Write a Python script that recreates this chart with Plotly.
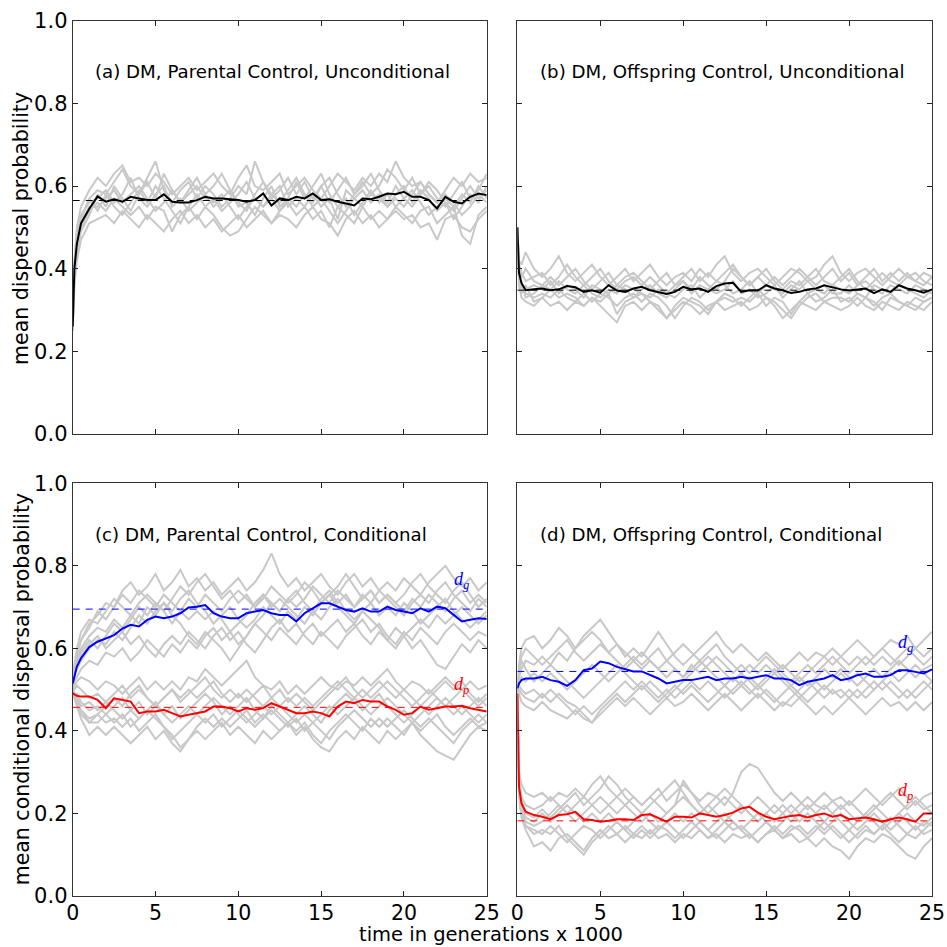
import plotly.graph_objects as go

# ---------------- data ----------------
# time in generations x 1000 at which values were read
T = [0, 0.1, 0.25, 0.5, 1.0,
     1.5, 2.0, 2.5, 3.0, 3.5, 4.0, 4.5, 5.0, 5.5, 6.0, 6.5, 7.0,
     7.5, 8.0, 8.5, 9.0, 9.5, 10.0, 10.5, 11.0, 11.5, 12.0, 12.5, 13.0,
     13.5, 14.0, 14.5, 15.0, 15.5, 16.0, 16.5, 17.0, 17.5, 18.0, 18.5, 19.0,
     19.5, 20.0, 20.5, 21.0, 21.5, 22.0, 22.5, 23.0, 23.5, 24.0, 24.5, 25.0]

# (a) parental control, unconditional: replicate runs and their mean
GRAY_A = [
    [0.26, 0.42, 0.50, 0.55, 0.59,
     0.62, 0.60, 0.63, 0.65, 0.61, 0.62, 0.60, 0.63, 0.61, 0.58, 0.60, 0.62,
     0.59, 0.61, 0.63, 0.60, 0.58, 0.62, 0.65, 0.60, 0.59, 0.61, 0.63, 0.58,
     0.60, 0.62, 0.59, 0.57, 0.60, 0.63, 0.61, 0.59, 0.62, 0.60, 0.63, 0.61,
     0.66, 0.62, 0.60, 0.61, 0.58, 0.56, 0.59, 0.62, 0.60, 0.63, 0.61, 0.62],
    [0.25, 0.36, 0.42, 0.47, 0.51,
     0.52, 0.53, 0.51, 0.54, 0.52, 0.50, 0.53, 0.51, 0.49, 0.52, 0.54, 0.51,
     0.53, 0.50, 0.52, 0.49, 0.51, 0.53, 0.50, 0.52, 0.54, 0.51, 0.53, 0.52,
     0.50, 0.53, 0.55, 0.52, 0.51, 0.48, 0.52, 0.54, 0.51, 0.53, 0.50, 0.52,
     0.54, 0.52, 0.53, 0.50, 0.51, 0.47, 0.52, 0.53, 0.50, 0.49, 0.52, 0.54],
    [0.27, 0.40, 0.47, 0.52, 0.57,
     0.59, 0.58, 0.61, 0.64, 0.60, 0.58, 0.62, 0.66, 0.59, 0.56, 0.59, 0.61,
     0.57, 0.60, 0.58, 0.55, 0.57, 0.60, 0.58, 0.66, 0.61, 0.58, 0.56, 0.59,
     0.62, 0.58, 0.56, 0.60, 0.62, 0.58, 0.55, 0.58, 0.61, 0.58, 0.60, 0.64,
     0.62, 0.59, 0.62, 0.58, 0.60, 0.57, 0.55, 0.58, 0.61, 0.57, 0.59, 0.63],
    [0.26, 0.38, 0.45, 0.50, 0.54,
     0.56, 0.54, 0.57, 0.55, 0.53, 0.55, 0.52, 0.55, 0.54, 0.49, 0.53, 0.55,
     0.52, 0.55, 0.53, 0.50, 0.48, 0.49, 0.52, 0.55, 0.53, 0.51, 0.54, 0.56,
     0.53, 0.55, 0.52, 0.54, 0.50, 0.55, 0.53, 0.51, 0.55, 0.52, 0.54, 0.52,
     0.55, 0.53, 0.51, 0.54, 0.55, 0.51, 0.53, 0.55, 0.48, 0.46, 0.53, 0.55],
    [0.25, 0.41, 0.48, 0.53, 0.56,
     0.57, 0.59, 0.56, 0.58, 0.62, 0.57, 0.55, 0.58, 0.60, 0.55, 0.57, 0.54,
     0.56, 0.58, 0.55, 0.57, 0.59, 0.55, 0.56, 0.53, 0.57, 0.60, 0.55, 0.57,
     0.61, 0.57, 0.60, 0.63, 0.58, 0.55, 0.57, 0.53, 0.56, 0.59, 0.56, 0.58,
     0.55, 0.57, 0.59, 0.56, 0.53, 0.55, 0.57, 0.55, 0.58, 0.56, 0.60, 0.57],
    [0.28, 0.39, 0.46, 0.51, 0.55,
     0.55, 0.57, 0.59, 0.56, 0.58, 0.60, 0.57, 0.54, 0.56, 0.59, 0.56, 0.58,
     0.60, 0.57, 0.56, 0.58, 0.55, 0.52, 0.55, 0.57, 0.55, 0.58, 0.60, 0.55,
     0.57, 0.55, 0.58, 0.55, 0.57, 0.52, 0.59, 0.57, 0.55, 0.58, 0.57, 0.55,
     0.58, 0.60, 0.56, 0.59, 0.57, 0.54, 0.56, 0.54, 0.57, 0.60, 0.57, 0.59],
    [0.26, 0.37, 0.44, 0.49, 0.53,
     0.58, 0.55, 0.60, 0.57, 0.54, 0.58, 0.61, 0.57, 0.63, 0.59, 0.56, 0.59,
     0.62, 0.58, 0.60, 0.63, 0.59, 0.56, 0.54, 0.58, 0.61, 0.57, 0.59, 0.62,
     0.58, 0.61, 0.57, 0.60, 0.56, 0.59, 0.62, 0.58, 0.60, 0.63, 0.59, 0.56,
     0.60, 0.57, 0.55, 0.58, 0.61, 0.59, 0.56, 0.52, 0.55, 0.58, 0.56, 0.60],
    [0.27, 0.40, 0.47, 0.52, 0.57,
     0.54, 0.58, 0.55, 0.53, 0.56, 0.59, 0.56, 0.60, 0.57, 0.54, 0.51, 0.55,
     0.58, 0.55, 0.57, 0.54, 0.56, 0.58, 0.61, 0.57, 0.55, 0.57, 0.54, 0.57,
     0.55, 0.58, 0.55, 0.57, 0.54, 0.51, 0.54, 0.57, 0.59, 0.56, 0.58, 0.55,
     0.57, 0.55, 0.58, 0.61, 0.58, 0.56, 0.58, 0.56, 0.53, 0.55, 0.58, 0.56],
]
MEAN_A = [0.26, 0.40, 0.46, 0.51, 0.545,
          0.575, 0.562, 0.568, 0.562, 0.574, 0.570, 0.566, 0.566, 0.580, 0.562, 0.560, 0.560,
          0.566, 0.574, 0.570, 0.570, 0.568, 0.566, 0.562, 0.566, 0.582, 0.553, 0.570, 0.566,
          0.574, 0.570, 0.582, 0.566, 0.568, 0.562, 0.558, 0.553, 0.570, 0.568, 0.574, 0.582,
          0.580, 0.586, 0.574, 0.574, 0.566, 0.546, 0.574, 0.562, 0.558, 0.574, 0.582, 0.578]

# (b) offspring control, unconditional
GRAY_B = [
    [0.50, 0.42, 0.41, 0.44, 0.40,
     0.38, 0.40, 0.43, 0.39, 0.37, 0.39, 0.41, 0.38, 0.36, 0.38, 0.40, 0.37,
     0.39, 0.41, 0.38, 0.36, 0.38, 0.39, 0.37, 0.40, 0.38, 0.41, 0.43, 0.39,
     0.37, 0.39, 0.40, 0.38, 0.36, 0.38, 0.40, 0.39, 0.37, 0.38, 0.41, 0.43,
     0.39, 0.37, 0.39, 0.40, 0.38, 0.36, 0.38, 0.40, 0.38, 0.37, 0.39, 0.38],
    [0.50, 0.36, 0.33, 0.32, 0.31,
     0.33, 0.31, 0.32, 0.30, 0.32, 0.31, 0.33, 0.31, 0.29, 0.27, 0.31, 0.32,
     0.30, 0.32, 0.31, 0.28, 0.30, 0.32, 0.31, 0.29, 0.31, 0.32, 0.30, 0.31,
     0.32, 0.30, 0.31, 0.33, 0.31, 0.28, 0.30, 0.32, 0.31, 0.30, 0.32, 0.31,
     0.30, 0.31, 0.33, 0.31, 0.30, 0.32, 0.31, 0.30, 0.32, 0.31, 0.30, 0.32],
    [0.50, 0.40, 0.38, 0.40, 0.37,
     0.36, 0.38, 0.36, 0.38, 0.40, 0.37, 0.35, 0.37, 0.39, 0.36, 0.38, 0.39,
     0.37, 0.35, 0.37, 0.39, 0.36, 0.37, 0.35, 0.38, 0.36, 0.35, 0.37, 0.40,
     0.38, 0.36, 0.38, 0.40, 0.37, 0.35, 0.37, 0.36, 0.38, 0.40, 0.37, 0.36,
     0.38, 0.40, 0.37, 0.35, 0.37, 0.39, 0.37, 0.36, 0.38, 0.39, 0.37, 0.36],
    [0.50, 0.37, 0.35, 0.34, 0.33,
     0.34, 0.33, 0.35, 0.33, 0.32, 0.34, 0.32, 0.34, 0.33, 0.31, 0.33, 0.34,
     0.32, 0.34, 0.33, 0.31, 0.28, 0.31, 0.33, 0.32, 0.30, 0.32, 0.34, 0.33,
     0.31, 0.33, 0.35, 0.33, 0.32, 0.30, 0.28, 0.31, 0.33, 0.34, 0.32, 0.33,
     0.33, 0.32, 0.34, 0.33, 0.31, 0.33, 0.34, 0.32, 0.31, 0.33, 0.32, 0.33],
    [0.50, 0.39, 0.36, 0.35, 0.36,
     0.35, 0.37, 0.34, 0.36, 0.35, 0.33, 0.36, 0.35, 0.34, 0.36, 0.35, 0.33,
     0.35, 0.36, 0.34, 0.33, 0.35, 0.37, 0.34, 0.36, 0.35, 0.37, 0.36, 0.34,
     0.35, 0.37, 0.34, 0.36, 0.35, 0.34, 0.36, 0.35, 0.37, 0.35, 0.34, 0.36,
     0.35, 0.34, 0.36, 0.37, 0.35, 0.34, 0.36, 0.35, 0.34, 0.36, 0.35, 0.34],
    [0.50, 0.38, 0.37, 0.33, 0.34,
     0.36, 0.35, 0.37, 0.35, 0.34, 0.36, 0.34, 0.33, 0.35, 0.34, 0.36, 0.35,
     0.34, 0.33, 0.35, 0.34, 0.33, 0.35, 0.36, 0.33, 0.35, 0.34, 0.35, 0.37,
     0.34, 0.35, 0.33, 0.34, 0.36, 0.33, 0.35, 0.37, 0.34, 0.35, 0.36, 0.34,
     0.34, 0.36, 0.34, 0.33, 0.36, 0.35, 0.34, 0.36, 0.35, 0.34, 0.33, 0.35],
    [0.50, 0.41, 0.39, 0.37, 0.38,
     0.39, 0.36, 0.38, 0.41, 0.38, 0.36, 0.38, 0.40, 0.37, 0.35, 0.37, 0.38,
     0.36, 0.38, 0.36, 0.34, 0.36, 0.38, 0.40, 0.37, 0.39, 0.37, 0.39, 0.41,
     0.38, 0.36, 0.38, 0.36, 0.38, 0.36, 0.38, 0.40, 0.38, 0.36, 0.38, 0.40,
     0.37, 0.39, 0.36, 0.38, 0.40, 0.37, 0.39, 0.37, 0.39, 0.37, 0.36, 0.38],
    [0.50, 0.37, 0.34, 0.36, 0.32,
     0.33, 0.35, 0.33, 0.34, 0.33, 0.31, 0.33, 0.32, 0.34, 0.29, 0.32, 0.33,
     0.34, 0.32, 0.30, 0.28, 0.31, 0.33, 0.32, 0.31, 0.29, 0.32, 0.33, 0.32,
     0.33, 0.32, 0.34, 0.31, 0.33, 0.32, 0.29, 0.32, 0.34, 0.32, 0.33, 0.35,
     0.32, 0.33, 0.31, 0.33, 0.32, 0.30, 0.33, 0.32, 0.31, 0.30, 0.32, 0.33],
]
MEAN_B = [0.50, 0.39, 0.365, 0.348, 0.350,
          0.352, 0.348, 0.350, 0.358, 0.355, 0.344, 0.348, 0.342, 0.360, 0.347, 0.344, 0.352,
          0.356, 0.348, 0.344, 0.339, 0.344, 0.356, 0.350, 0.352, 0.344, 0.358, 0.364, 0.366,
          0.344, 0.348, 0.347, 0.360, 0.352, 0.348, 0.341, 0.344, 0.350, 0.352, 0.360, 0.355,
          0.350, 0.347, 0.350, 0.352, 0.341, 0.350, 0.344, 0.360, 0.352, 0.348, 0.342, 0.350]

# (c) parental control, conditional: d_g (upper group) and d_p (lower group)
GRAY_C_G = [
    [0.50, 0.55, 0.58, 0.62, 0.66,
     0.68, 0.71, 0.70, 0.74, 0.76, 0.73, 0.75, 0.78, 0.74, 0.76, 0.79, 0.75,
     0.77, 0.74, 0.76, 0.73, 0.75, 0.77, 0.74, 0.76, 0.79, 0.83, 0.78, 0.75,
     0.77, 0.74, 0.76, 0.78, 0.75, 0.73, 0.76, 0.78, 0.75, 0.77, 0.74, 0.76,
     0.74, 0.77, 0.75, 0.73, 0.76, 0.78, 0.80, 0.77, 0.75, 0.77, 0.74, 0.76],
    [0.50, 0.53, 0.55, 0.57, 0.60,
     0.62, 0.61, 0.64, 0.62, 0.65, 0.68, 0.66, 0.69, 0.71, 0.68, 0.66, 0.63,
     0.61, 0.64, 0.62, 0.60, 0.57, 0.60, 0.63, 0.66, 0.68, 0.71, 0.69, 0.72,
     0.74, 0.71, 0.69, 0.72, 0.74, 0.71, 0.73, 0.70, 0.72, 0.74, 0.71, 0.73,
     0.71, 0.69, 0.72, 0.70, 0.73, 0.71, 0.69, 0.72, 0.74, 0.71, 0.73, 0.71],
    [0.50, 0.52, 0.53, 0.55, 0.57,
     0.56, 0.59, 0.58, 0.60, 0.57, 0.59, 0.62, 0.60, 0.58, 0.61, 0.59, 0.62,
     0.60, 0.63, 0.65, 0.62, 0.64, 0.61, 0.63, 0.66, 0.64, 0.62, 0.65, 0.63,
     0.61, 0.64, 0.66, 0.63, 0.65, 0.67, 0.64, 0.66, 0.63, 0.61, 0.64, 0.62,
     0.65, 0.63, 0.60, 0.62, 0.59, 0.56, 0.55, 0.58, 0.61, 0.59, 0.62, 0.60],
    [0.50, 0.54, 0.57, 0.60, 0.63,
     0.65, 0.64, 0.67, 0.65, 0.68, 0.66, 0.70, 0.68, 0.71, 0.69, 0.72, 0.74,
     0.71, 0.69, 0.66, 0.68, 0.70, 0.67, 0.65, 0.67, 0.70, 0.68, 0.66, 0.69,
     0.67, 0.70, 0.68, 0.71, 0.73, 0.70, 0.68, 0.66, 0.69, 0.71, 0.68, 0.70,
     0.68, 0.71, 0.69, 0.66, 0.68, 0.70, 0.72, 0.69, 0.67, 0.65, 0.67, 0.69],
    [0.50, 0.56, 0.60, 0.64, 0.67,
     0.66, 0.69, 0.72, 0.70, 0.68, 0.71, 0.73, 0.71, 0.69, 0.72, 0.75, 0.73,
     0.76, 0.78, 0.75, 0.72, 0.74, 0.71, 0.73, 0.70, 0.72, 0.75, 0.73, 0.71,
     0.73, 0.76, 0.74, 0.71, 0.73, 0.75, 0.78, 0.75, 0.72, 0.74, 0.71, 0.73,
     0.71, 0.73, 0.76, 0.78, 0.75, 0.73, 0.71, 0.74, 0.76, 0.73, 0.70, 0.72],
    [0.50, 0.53, 0.56, 0.58, 0.61,
     0.63, 0.60, 0.62, 0.64, 0.61, 0.63, 0.60, 0.58, 0.61, 0.63, 0.61, 0.64,
     0.62, 0.60, 0.63, 0.65, 0.62, 0.64, 0.61, 0.59, 0.62, 0.65, 0.67, 0.64,
     0.66, 0.63, 0.61, 0.64, 0.62, 0.60, 0.63, 0.65, 0.67, 0.64, 0.66, 0.63,
     0.61, 0.64, 0.62, 0.65, 0.63, 0.61, 0.64, 0.66, 0.64, 0.62, 0.64, 0.63],
    [0.50, 0.55, 0.59, 0.62, 0.65,
     0.69, 0.67, 0.70, 0.73, 0.71, 0.74, 0.72, 0.70, 0.73, 0.71, 0.69, 0.72,
     0.70, 0.73, 0.71, 0.69, 0.72, 0.74, 0.72, 0.70, 0.73, 0.71, 0.69, 0.72,
     0.70, 0.72, 0.75, 0.73, 0.71, 0.74, 0.72, 0.70, 0.73, 0.71, 0.74, 0.72,
     0.70, 0.68, 0.71, 0.73, 0.71, 0.74, 0.76, 0.73, 0.71, 0.69, 0.72, 0.70],
    [0.50, 0.54, 0.56, 0.59, 0.62,
     0.60, 0.63, 0.66, 0.64, 0.67, 0.70, 0.68, 0.71, 0.69, 0.66, 0.69, 0.67,
     0.69, 0.67, 0.69, 0.67, 0.64, 0.66, 0.68, 0.71, 0.73, 0.70, 0.72, 0.70,
     0.68, 0.66, 0.69, 0.67, 0.70, 0.72, 0.69, 0.67, 0.69, 0.67, 0.65, 0.62,
     0.60, 0.63, 0.65, 0.67, 0.65, 0.68, 0.66, 0.68, 0.70, 0.68, 0.66, 0.68],
]
GRAY_C_P = [
    [0.50, 0.51, 0.52, 0.53, 0.52,
     0.50, 0.52, 0.51, 0.49, 0.51, 0.53, 0.50, 0.52, 0.50, 0.52, 0.50, 0.53,
     0.52, 0.55, 0.53, 0.51, 0.53, 0.55, 0.57, 0.53, 0.51, 0.50, 0.52, 0.49,
     0.51, 0.49, 0.51, 0.53, 0.51, 0.50, 0.52, 0.51, 0.53, 0.51, 0.53, 0.55,
     0.52, 0.50, 0.52, 0.51, 0.49, 0.51, 0.53, 0.51, 0.50, 0.52, 0.50, 0.51],
    [0.50, 0.48, 0.46, 0.43, 0.39,
     0.41, 0.39, 0.41, 0.39, 0.37, 0.39, 0.41, 0.38, 0.40, 0.37, 0.35, 0.38,
     0.40, 0.38, 0.40, 0.42, 0.39, 0.41, 0.39, 0.37, 0.40, 0.38, 0.40, 0.42,
     0.39, 0.41, 0.38, 0.36, 0.35, 0.38, 0.40, 0.38, 0.41, 0.39, 0.37, 0.40,
     0.38, 0.40, 0.42, 0.39, 0.37, 0.35, 0.34, 0.33, 0.36, 0.39, 0.41, 0.40],
    [0.50, 0.49, 0.49, 0.47, 0.45,
     0.46, 0.44, 0.46, 0.48, 0.45, 0.43, 0.45, 0.47, 0.44, 0.42, 0.44, 0.46,
     0.44, 0.46, 0.48, 0.46, 0.44, 0.46, 0.48, 0.45, 0.43, 0.46, 0.44, 0.42,
     0.44, 0.46, 0.44, 0.42, 0.45, 0.47, 0.49, 0.47, 0.45, 0.47, 0.49, 0.46,
     0.44, 0.42, 0.44, 0.46, 0.44, 0.46, 0.48, 0.46, 0.44, 0.46, 0.48, 0.46],
    [0.50, 0.50, 0.51, 0.50, 0.48,
     0.49, 0.47, 0.49, 0.51, 0.48, 0.50, 0.48, 0.46, 0.48, 0.50, 0.48, 0.50,
     0.48, 0.50, 0.52, 0.49, 0.47, 0.49, 0.47, 0.49, 0.51, 0.48, 0.46, 0.48,
     0.46, 0.48, 0.46, 0.48, 0.50, 0.52, 0.50, 0.48, 0.50, 0.48, 0.50, 0.52,
     0.50, 0.48, 0.46, 0.48, 0.50, 0.48, 0.46, 0.48, 0.50, 0.48, 0.46, 0.48],
    [0.50, 0.48, 0.47, 0.45, 0.43,
     0.44, 0.42, 0.43, 0.41, 0.43, 0.40, 0.42, 0.44, 0.41, 0.39, 0.36, 0.38,
     0.41, 0.43, 0.41, 0.43, 0.41, 0.43, 0.45, 0.42, 0.44, 0.42, 0.40, 0.42,
     0.40, 0.42, 0.39, 0.37, 0.40, 0.42, 0.44, 0.42, 0.40, 0.43, 0.41, 0.43,
     0.41, 0.39, 0.42, 0.40, 0.42, 0.44, 0.41, 0.39, 0.41, 0.43, 0.41, 0.42],
    [0.50, 0.49, 0.48, 0.46, 0.47,
     0.45, 0.47, 0.45, 0.43, 0.45, 0.47, 0.44, 0.46, 0.44, 0.46, 0.43, 0.45,
     0.47, 0.49, 0.47, 0.44, 0.46, 0.44, 0.42, 0.44, 0.46, 0.44, 0.46, 0.44,
     0.42, 0.44, 0.42, 0.44, 0.46, 0.44, 0.46, 0.48, 0.46, 0.44, 0.46, 0.48,
     0.46, 0.44, 0.42, 0.44, 0.46, 0.48, 0.46, 0.44, 0.46, 0.44, 0.42, 0.44],
    [0.50, 0.49, 0.47, 0.45, 0.42,
     0.44, 0.46, 0.48, 0.46, 0.49, 0.51, 0.48, 0.46, 0.48, 0.50, 0.47, 0.49,
     0.51, 0.53, 0.50, 0.48, 0.50, 0.48, 0.50, 0.48, 0.46, 0.48, 0.50, 0.47,
     0.49, 0.47, 0.45, 0.47, 0.49, 0.51, 0.53, 0.50, 0.48, 0.50, 0.52, 0.50,
     0.48, 0.50, 0.48, 0.46, 0.48, 0.50, 0.52, 0.50, 0.52, 0.49, 0.47, 0.49],
    [0.50, 0.48, 0.47, 0.44, 0.42,
     0.42, 0.44, 0.42, 0.44, 0.41, 0.43, 0.45, 0.43, 0.41, 0.38, 0.40, 0.42,
     0.44, 0.42, 0.44, 0.41, 0.43, 0.45, 0.43, 0.41, 0.43, 0.45, 0.43, 0.41,
     0.43, 0.40, 0.42, 0.40, 0.38, 0.41, 0.43, 0.45, 0.43, 0.41, 0.43, 0.41,
     0.43, 0.45, 0.43, 0.41, 0.43, 0.41, 0.39, 0.37, 0.40, 0.42, 0.44, 0.42],
]
MEAN_C_G = [0.515, 0.535, 0.556, 0.576, 0.603,
            0.616, 0.624, 0.632, 0.648, 0.657, 0.653, 0.669, 0.677, 0.673, 0.677, 0.685, 0.699,
            0.701, 0.705, 0.685, 0.677, 0.673, 0.673, 0.685, 0.689, 0.693, 0.685, 0.681, 0.681,
            0.665, 0.685, 0.697, 0.709, 0.709, 0.701, 0.693, 0.689, 0.697, 0.689, 0.689, 0.701,
            0.693, 0.689, 0.685, 0.697, 0.689, 0.701, 0.697, 0.681, 0.665, 0.669, 0.673, 0.671]
MEAN_C_P = [0.491, 0.488, 0.485, 0.483, 0.483,
            0.475, 0.455, 0.479, 0.475, 0.471, 0.443, 0.447, 0.447, 0.451, 0.443, 0.435, 0.439,
            0.443, 0.447, 0.459, 0.459, 0.455, 0.447, 0.455, 0.451, 0.455, 0.467, 0.459, 0.451,
            0.443, 0.443, 0.447, 0.443, 0.435, 0.459, 0.471, 0.467, 0.475, 0.471, 0.471, 0.459,
            0.451, 0.439, 0.443, 0.459, 0.451, 0.455, 0.459, 0.459, 0.461, 0.455, 0.451, 0.447]

# (d) offspring control, conditional
GRAY_D_G = [
    [0.50, 0.56, 0.60, 0.62, 0.63,
     0.60, 0.62, 0.65, 0.63, 0.60, 0.62, 0.64, 0.62, 0.59, 0.61, 0.58, 0.60,
     0.58, 0.61, 0.64, 0.61, 0.58, 0.56, 0.58, 0.60, 0.62, 0.64, 0.61, 0.59,
     0.61, 0.59, 0.57, 0.59, 0.57, 0.55, 0.57, 0.59, 0.57, 0.59, 0.58, 0.60,
     0.58, 0.60, 0.62, 0.60, 0.58, 0.60, 0.62, 0.61, 0.63, 0.60, 0.62, 0.64],
    [0.50, 0.49, 0.47, 0.46, 0.45,
     0.47, 0.45, 0.44, 0.43, 0.45, 0.43, 0.42, 0.44, 0.46, 0.48, 0.46, 0.48,
     0.46, 0.44, 0.46, 0.48, 0.46, 0.47, 0.49, 0.47, 0.45, 0.47, 0.49, 0.47,
     0.45, 0.47, 0.49, 0.47, 0.45, 0.47, 0.46, 0.48, 0.46, 0.44, 0.46, 0.44,
     0.46, 0.48, 0.46, 0.44, 0.46, 0.48, 0.46, 0.47, 0.45, 0.47, 0.45, 0.47],
    [0.50, 0.53, 0.55, 0.57, 0.56,
     0.58, 0.56, 0.59, 0.57, 0.60, 0.63, 0.65, 0.67, 0.64, 0.61, 0.59, 0.57,
     0.55, 0.57, 0.55, 0.53, 0.55, 0.53, 0.56, 0.54, 0.56, 0.58, 0.56, 0.54,
     0.56, 0.54, 0.56, 0.58, 0.56, 0.54, 0.52, 0.54, 0.56, 0.54, 0.56, 0.58,
     0.56, 0.54, 0.56, 0.58, 0.56, 0.58, 0.56, 0.58, 0.60, 0.58, 0.56, 0.58],
    [0.50, 0.52, 0.53, 0.52, 0.54,
     0.52, 0.54, 0.52, 0.50, 0.52, 0.54, 0.56, 0.54, 0.52, 0.54, 0.56, 0.58,
     0.56, 0.58, 0.60, 0.57, 0.55, 0.53, 0.55, 0.57, 0.55, 0.53, 0.51, 0.53,
     0.51, 0.53, 0.51, 0.53, 0.55, 0.53, 0.51, 0.53, 0.51, 0.53, 0.55, 0.53,
     0.55, 0.53, 0.51, 0.53, 0.55, 0.53, 0.55, 0.57, 0.55, 0.53, 0.55, 0.56],
    [0.50, 0.51, 0.50, 0.49, 0.50,
     0.48, 0.50, 0.48, 0.46, 0.44, 0.46, 0.44, 0.46, 0.48, 0.50, 0.52, 0.50,
     0.52, 0.50, 0.48, 0.50, 0.48, 0.50, 0.52, 0.50, 0.52, 0.50, 0.48, 0.50,
     0.52, 0.50, 0.48, 0.50, 0.48, 0.46, 0.48, 0.50, 0.52, 0.50, 0.48, 0.50,
     0.48, 0.50, 0.48, 0.50, 0.52, 0.50, 0.52, 0.50, 0.48, 0.50, 0.52, 0.50],
    [0.50, 0.54, 0.57, 0.55, 0.52,
     0.54, 0.56, 0.54, 0.52, 0.50, 0.48, 0.50, 0.52, 0.54, 0.56, 0.54, 0.52,
     0.50, 0.52, 0.50, 0.48, 0.50, 0.52, 0.54, 0.56, 0.58, 0.56, 0.54, 0.52,
     0.54, 0.52, 0.50, 0.52, 0.54, 0.52, 0.50, 0.48, 0.50, 0.52, 0.50, 0.52,
     0.54, 0.52, 0.54, 0.52, 0.50, 0.52, 0.54, 0.52, 0.54, 0.56, 0.54, 0.52],
    [0.50, 0.55, 0.58, 0.60, 0.58,
     0.56, 0.58, 0.60, 0.62, 0.59, 0.57, 0.59, 0.61, 0.59, 0.57, 0.55, 0.57,
     0.59, 0.57, 0.55, 0.57, 0.59, 0.61, 0.59, 0.57, 0.59, 0.61, 0.58, 0.56,
     0.54, 0.56, 0.54, 0.56, 0.54, 0.56, 0.54, 0.52, 0.54, 0.56, 0.58, 0.56,
     0.58, 0.56, 0.58, 0.56, 0.58, 0.60, 0.58, 0.56, 0.58, 0.60, 0.58, 0.60],
    [0.50, 0.50, 0.49, 0.48, 0.47,
     0.49, 0.47, 0.49, 0.47, 0.46, 0.44, 0.42, 0.45, 0.47, 0.49, 0.47, 0.49,
     0.51, 0.49, 0.47, 0.49, 0.51, 0.49, 0.51, 0.49, 0.47, 0.49, 0.51, 0.49,
     0.51, 0.49, 0.51, 0.49, 0.47, 0.49, 0.51, 0.49, 0.47, 0.49, 0.51, 0.49,
     0.50, 0.48, 0.50, 0.48, 0.50, 0.52, 0.50, 0.48, 0.50, 0.48, 0.50, 0.52],
]
GRAY_D_P = [
    [0.50, 0.30, 0.27, 0.25, 0.24,
     0.25, 0.23, 0.25, 0.24, 0.26, 0.24, 0.27, 0.29, 0.26, 0.24, 0.22, 0.24,
     0.22, 0.24, 0.26, 0.23, 0.25, 0.27, 0.25, 0.23, 0.25, 0.24, 0.22, 0.25,
     0.30, 0.32, 0.31, 0.28, 0.25, 0.23, 0.25, 0.23, 0.21, 0.23, 0.25, 0.23,
     0.24, 0.22, 0.24, 0.26, 0.24, 0.22, 0.24, 0.26, 0.24, 0.22, 0.24, 0.25],
    [0.50, 0.24, 0.19, 0.16, 0.12,
     0.13, 0.11, 0.14, 0.15, 0.13, 0.11, 0.14, 0.16, 0.14, 0.15, 0.13, 0.15,
     0.14, 0.16, 0.14, 0.15, 0.13, 0.15, 0.14, 0.16, 0.14, 0.15, 0.13, 0.15,
     0.14, 0.15, 0.13, 0.15, 0.16, 0.14, 0.15, 0.13, 0.14, 0.12, 0.14, 0.12,
     0.11, 0.09, 0.12, 0.14, 0.13, 0.15, 0.14, 0.12, 0.10, 0.09, 0.12, 0.14],
    [0.50, 0.28, 0.24, 0.22, 0.21,
     0.22, 0.24, 0.22, 0.20, 0.22, 0.24, 0.22, 0.20, 0.22, 0.24, 0.26, 0.24,
     0.22, 0.24, 0.22, 0.20, 0.22, 0.28, 0.25, 0.22, 0.20, 0.22, 0.24, 0.22,
     0.20, 0.22, 0.24, 0.22, 0.20, 0.22, 0.20, 0.22, 0.24, 0.22, 0.21, 0.23,
     0.21, 0.23, 0.21, 0.19, 0.21, 0.23, 0.25, 0.23, 0.21, 0.23, 0.21, 0.22],
    [0.50, 0.27, 0.22, 0.19, 0.18,
     0.20, 0.18, 0.20, 0.22, 0.20, 0.18, 0.20, 0.18, 0.20, 0.18, 0.16, 0.18,
     0.20, 0.18, 0.16, 0.18, 0.20, 0.18, 0.20, 0.18, 0.16, 0.18, 0.20, 0.18,
     0.16, 0.18, 0.20, 0.18, 0.16, 0.18, 0.20, 0.18, 0.20, 0.18, 0.16, 0.18,
     0.20, 0.18, 0.16, 0.18, 0.20, 0.18, 0.16, 0.18, 0.20, 0.18, 0.17, 0.19],
    [0.50, 0.25, 0.20, 0.17, 0.15,
     0.16, 0.15, 0.17, 0.14, 0.12, 0.10, 0.13, 0.15, 0.17, 0.15, 0.17, 0.15,
     0.17, 0.15, 0.17, 0.16, 0.14, 0.16, 0.18, 0.16, 0.14, 0.16, 0.18, 0.16,
     0.17, 0.15, 0.13, 0.15, 0.17, 0.15, 0.17, 0.16, 0.14, 0.16, 0.18, 0.16,
     0.14, 0.16, 0.14, 0.16, 0.15, 0.17, 0.15, 0.13, 0.15, 0.17, 0.15, 0.16],
    [0.50, 0.29, 0.23, 0.20, 0.19,
     0.21, 0.19, 0.21, 0.23, 0.25, 0.22, 0.24, 0.26, 0.29, 0.27, 0.24, 0.22,
     0.20, 0.22, 0.24, 0.26, 0.28, 0.25, 0.22, 0.20, 0.22, 0.20, 0.18, 0.20,
     0.22, 0.20, 0.18, 0.20, 0.22, 0.20, 0.18, 0.20, 0.22, 0.20, 0.18, 0.20,
     0.22, 0.20, 0.18, 0.20, 0.22, 0.20, 0.18, 0.20, 0.22, 0.24, 0.22, 0.20],
    [0.50, 0.27, 0.21, 0.18, 0.17,
     0.18, 0.20, 0.22, 0.20, 0.18, 0.20, 0.22, 0.24, 0.22, 0.20, 0.22, 0.20,
     0.18, 0.20, 0.18, 0.20, 0.22, 0.24, 0.22, 0.20, 0.22, 0.24, 0.26, 0.24,
     0.22, 0.20, 0.18, 0.20, 0.18, 0.20, 0.22, 0.20, 0.18, 0.20, 0.22, 0.20,
     0.18, 0.16, 0.18, 0.20, 0.18, 0.16, 0.18, 0.20, 0.18, 0.16, 0.18, 0.17],
    [0.50, 0.26, 0.20, 0.17, 0.16,
     0.15, 0.17, 0.15, 0.13, 0.15, 0.17, 0.16, 0.14, 0.16, 0.18, 0.16, 0.14,
     0.16, 0.14, 0.16, 0.18, 0.16, 0.14, 0.16, 0.18, 0.16, 0.14, 0.16, 0.18,
     0.16, 0.14, 0.16, 0.18, 0.16, 0.14, 0.16, 0.17, 0.15, 0.17, 0.15, 0.17,
     0.15, 0.13, 0.15, 0.17, 0.15, 0.17, 0.19, 0.17, 0.15, 0.14, 0.16, 0.18],
]
MEAN_D_G = [0.503, 0.515, 0.523, 0.527, 0.527,
            0.531, 0.523, 0.519, 0.509, 0.523, 0.547, 0.551, 0.568, 0.564, 0.555, 0.549, 0.544,
            0.544, 0.535, 0.527, 0.515, 0.519, 0.523, 0.523, 0.527, 0.531, 0.523, 0.527, 0.527,
            0.531, 0.527, 0.531, 0.535, 0.527, 0.527, 0.523, 0.511, 0.519, 0.523, 0.527, 0.535,
            0.523, 0.527, 0.535, 0.539, 0.531, 0.531, 0.535, 0.547, 0.547, 0.543, 0.539, 0.549]
MEAN_D_P = [0.49, 0.265, 0.224, 0.204, 0.196,
            0.192, 0.186, 0.196, 0.198, 0.204, 0.186, 0.184, 0.180, 0.182, 0.186, 0.186, 0.184,
            0.196, 0.198, 0.188, 0.180, 0.192, 0.192, 0.190, 0.200, 0.196, 0.192, 0.196, 0.202,
            0.212, 0.216, 0.202, 0.192, 0.186, 0.190, 0.194, 0.196, 0.190, 0.196, 0.200, 0.192,
            0.196, 0.186, 0.188, 0.190, 0.186, 0.180, 0.186, 0.190, 0.186, 0.180, 0.200, 0.200]

# predicted equilibrium values (dashed lines)
EQ_A = 0.565
EQ_B = 0.348
EQ_C_G, EQ_C_P = 0.695, 0.457
EQ_D_G, EQ_D_P = 0.544, 0.182
X_SPAN = [0, 25]

PANEL_TITLES = ["(a) DM, Parental Control, Unconditional",
                "(b) DM, Offspring Control, Unconditional",
                "(c) DM, Parental Control, Conditional",
                "(d) DM, Offspring Control, Conditional"]
Y_TITLES = ["mean dispersal probability", "mean conditional dispersal probability"]
X_TITLE = "time in generations x 1000"
Y_TICKS = [0.0, 0.2, 0.4, 0.6, 0.8, 1.0]
X_TICKS = [0, 5, 10, 15, 20, 25]

# ---------------- figure ----------------
GRAY = "#c8c8c8"
BLUE = "#0000ff"
RED = "#ff0000"
FONT = "DejaVu Sans"

fig = go.Figure()

def add_gray(lines, xa, ya):
    for ys in lines:
        fig.add_trace(go.Scatter(x=T, y=ys, mode="lines", xaxis=xa, yaxis=ya,
                                 line=dict(color=GRAY, width=2.0), hoverinfo="skip",
                                 showlegend=False))

def add_mean(ys, color, xa, ya):
    fig.add_trace(go.Scatter(x=T, y=ys, mode="lines", xaxis=xa, yaxis=ya,
                             line=dict(color=color, width=2), showlegend=False))

def add_eq(v, color, xa, ya):
    fig.add_trace(go.Scatter(x=X_SPAN, y=[v, v], mode="lines", xaxis=xa, yaxis=ya,
                             line=dict(color=color, width=1, dash="7px,6px"),
                             showlegend=False))

add_gray(GRAY_A, "x", "y")
add_mean(MEAN_A, "black", "x", "y")
add_eq(EQ_A, "black", "x", "y")

add_gray(GRAY_B, "x2", "y2")
add_mean(MEAN_B, "black", "x2", "y2")
add_eq(EQ_B, "black", "x2", "y2")

add_gray(GRAY_C_G, "x3", "y3")
add_gray(GRAY_C_P, "x3", "y3")
add_mean(MEAN_C_G, BLUE, "x3", "y3")
add_mean(MEAN_C_P, RED, "x3", "y3")
add_eq(EQ_C_G, BLUE, "x3", "y3")
add_eq(EQ_C_P, RED, "x3", "y3")

add_gray(GRAY_D_G, "x4", "y4")
add_gray(GRAY_D_P, "x4", "y4")
add_mean(MEAN_D_G, BLUE, "x4", "y4")
add_mean(MEAN_D_P, RED, "x4", "y4")
add_eq(EQ_D_G, BLUE, "x4", "y4")
add_eq(EQ_D_P, RED, "x4", "y4")

XL = [0.0768, 0.5140]
XR = [0.5463, 0.9842]
YT = [0.5417, 0.9781]
YB = [0.0539, 0.4897]

def xaxis(domain, anchor, labels):
    return dict(domain=domain, anchor=anchor, range=[0, 25], tickvals=X_TICKS,
                ticktext=[str(v) for v in X_TICKS], showticklabels=labels,
                ticks="inside", ticklen=5, tickwidth=1, tickcolor="#222",
                showline=True, linecolor="#333", linewidth=1, mirror="ticks",
                showgrid=False, zeroline=False, automargin=False,
                ticklabelstandoff=-2,
                tickfont=dict(family=FONT, size=20.5, color="black"))

def yaxis(domain, anchor, labels):
    return dict(domain=domain, anchor=anchor, range=[0, 1], tickvals=Y_TICKS,
                ticktext=["%.1f" % v for v in Y_TICKS], showticklabels=labels,
                ticks="inside", ticklen=5, tickwidth=1, tickcolor="#222",
                showline=True, linecolor="#333", linewidth=1, mirror="ticks",
                showgrid=False, zeroline=False, automargin=False,
                tickfont=dict(family=FONT, size=21, color="black"))

fig.update_layout(
    width=947, height=947, autosize=False,
    margin=dict(l=0, r=0, t=0, b=0, pad=0, autoexpand=False),
    paper_bgcolor="white", plot_bgcolor="white",
    showlegend=False,
    font=dict(family=FONT, color="black"),
    xaxis=xaxis(XL, "y", False), yaxis=yaxis(YT, "x", True),
    xaxis2=xaxis(XR, "y2", False), yaxis2=yaxis(YT, "x2", False),
    xaxis3=xaxis(XL, "y3", True), yaxis3=yaxis(YB, "x3", True),
    xaxis4=xaxis(XR, "y4", True), yaxis4=yaxis(YB, "x4", False),
)

annotations = []
for title, ax, ay in zip(PANEL_TITLES, ["x", "x2", "x3", "x4"], ["y", "y2", "y3", "y4"]):
    annotations.append(dict(text=title, xref=ax + " domain", yref=ay + " domain",
                            x=0.050, y=0.877, xanchor="left", yanchor="middle",
                            showarrow=False, font=dict(family=FONT, size=18.2, color="black")))

annotations.append(dict(text=Y_TITLES[0], xref="paper", yref="paper", x=0.0229, y=0.759,
                        textangle=-90, showarrow=False, xanchor="center", yanchor="middle",
                        font=dict(family=FONT, size=20.5, color="black")))
annotations.append(dict(text=Y_TITLES[1], xref="paper", yref="paper", x=0.0229, y=0.2718,
                        textangle=-90, showarrow=False, xanchor="center", yanchor="middle",
                        font=dict(family=FONT, size=20.5, color="black")))
annotations.append(dict(text=X_TITLE, xref="paper", yref="paper", x=0.518, y=0.0,
                        showarrow=False, xanchor="center", yanchor="bottom", borderpad=0,
                        font=dict(family=FONT, size=19.5, color="black")))

LBL_FONT = "Liberation Serif"
for txt, col, xa, ya, xv, yv in [
        ("<i>d</i><sub><i>g</i></sub>", BLUE, "x3", "y3", 23.5, 0.765),
        ("<i>d</i><sub><i>p</i></sub>", RED, "x3", "y3", 23.5, 0.510),
        ("<i>d</i><sub><i>g</i></sub>", BLUE, "x4", "y4", 23.4, 0.612),
        ("<i>d</i><sub><i>p</i></sub>", RED, "x4", "y4", 23.4, 0.253)]:
    annotations.append(dict(text=txt, x=xv, y=yv, xref=xa, yref=ya, showarrow=False,
                            xanchor="center", yanchor="middle",
                            font=dict(family=LBL_FONT, size=18, color=col)))

fig.update_layout(annotations=annotations)

fig.write_html("out.html")
